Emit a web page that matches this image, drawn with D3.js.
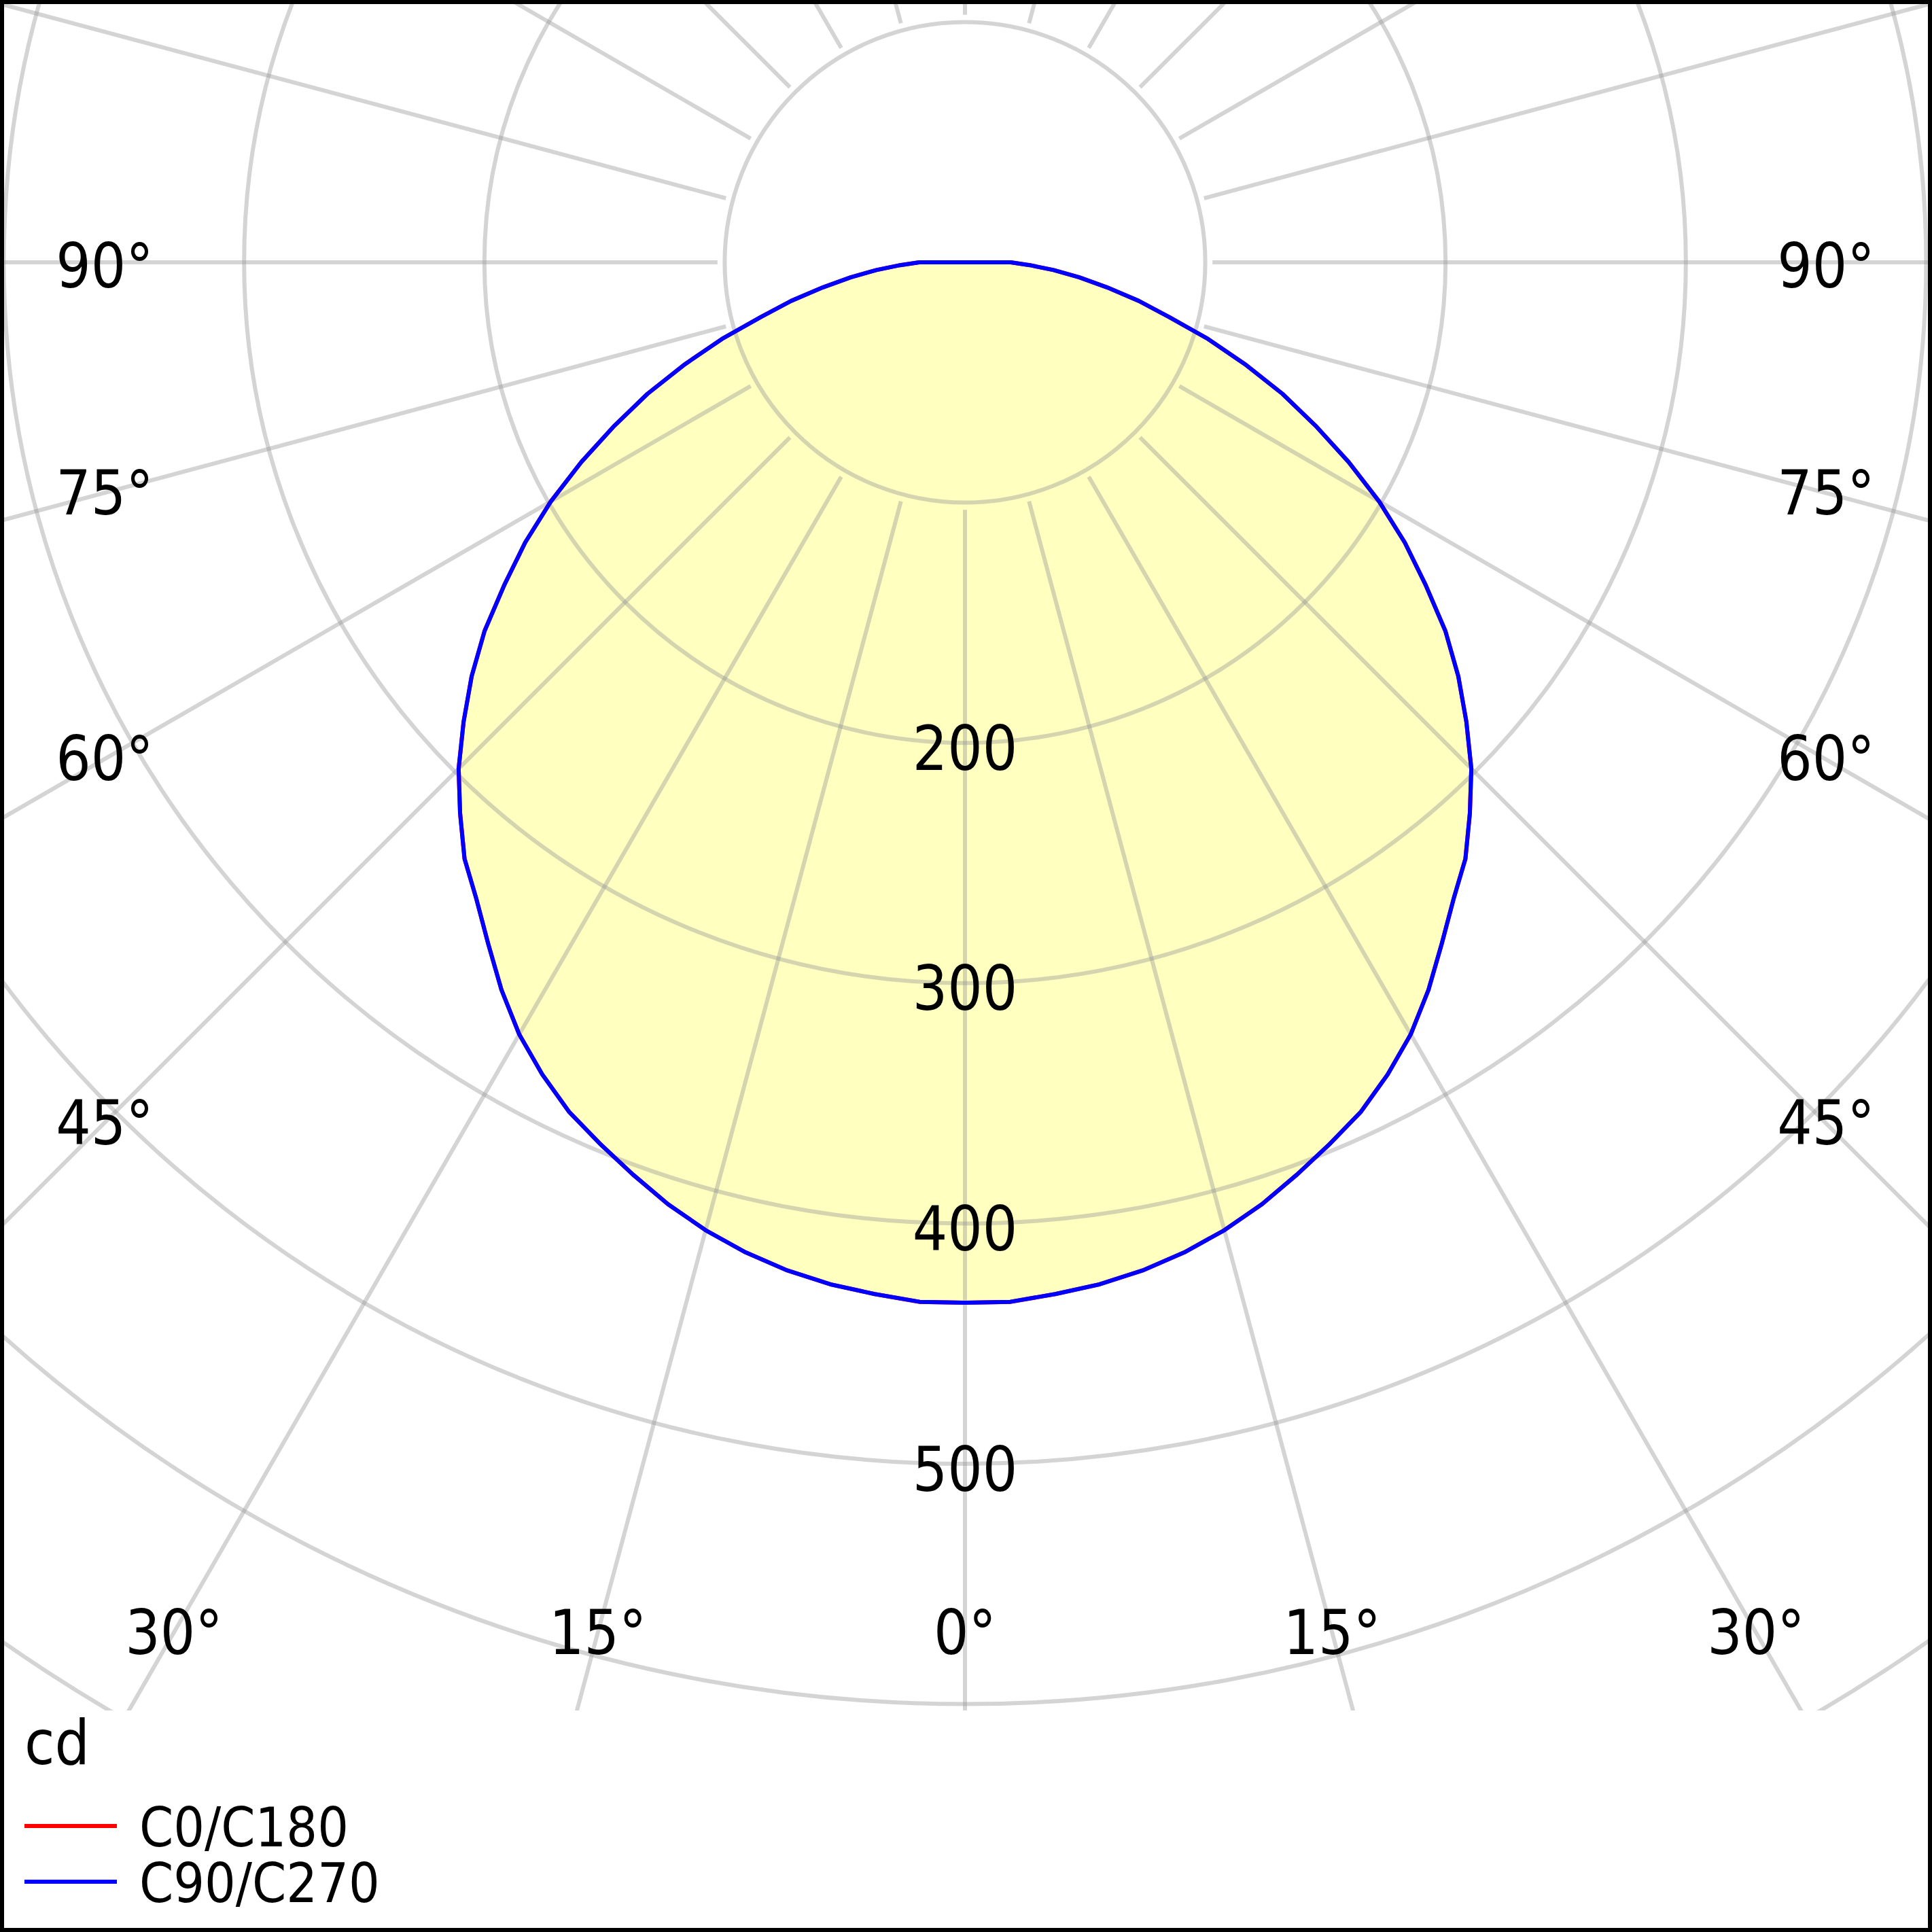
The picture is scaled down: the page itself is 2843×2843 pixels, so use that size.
<!DOCTYPE html>
<html><head><meta charset="utf-8">
<script src="https://cdn.jsdelivr.net/npm/d3@7"></script>
<style>body{margin:0;background:#fff}svg{display:block}</style>
</head><body>
<script>
const gammas = [0,2.5,5,7.5,10,12.5,15,17.5,20,22.5,25,27.5,30,32.5,35,37.5,40,42.5,45,47.5,50,52.5,55,57.5,60,62.5,65,67.5,70,72.5,75,77.5,80,82.5,85,87.5,90];
const c90 = [433,433,431,429,426,422,417,411,404,397,390,381,371,359,346,334,324,311,298,283,268,252,234,217,199,180,161,143,124,106,88,74,60,48,37,27,19];
const c0 = c90.slice();
const rings = [100,200,300,400,500,600,700,800];
const ringLabels = [200,300,400,500];
const sideLabels = [90,75,60,45];
const bottomLabels = [-30,-15,0,15,30];
const legend = [{name:"C0/C180",color:"#ff0000"},{name:"C90/C270",color:"#0000ff"}];

const W=2843, H=2843, cx=1420, cy=386, clipY=2517;
const r = d3.scaleLinear().domain([0,100]).range([0,353.6]);
const font = "'DejaVu Sans Condensed','DejaVu Sans',sans-serif";
const svg = d3.select("body").append("svg").attr("width",W).attr("height",H);
svg.append("defs").append("clipPath").attr("id","cp").append("rect").attr("x",4).attr("y",4).attr("width",W-8).attr("height",clipY-4);

function pt(g,v){const a=g*Math.PI/180;return [cx+r(v)*Math.sin(a), cy+r(v)*Math.cos(a)];}
function curve(vals){
  const pts=[];
  for(let i=gammas.length-1;i>=0;i--) pts.push(pt(-gammas[i],vals[i]));
  for(let i=1;i<gammas.length;i++) pts.push(pt(gammas[i],vals[i]));
  return d3.line()(pts)+"Z";
}
const g = svg.append("g").attr("clip-path","url(#cp)");
g.append("path").attr("d",curve(c90)).attr("fill","#ffffc0").attr("stroke","none");
const grid = g.append("g").attr("stroke","#999").attr("stroke-opacity",0.42).attr("stroke-width",6).attr("fill","none");
rings.forEach(v=>grid.append("circle").attr("cx",cx).attr("cy",cy).attr("r",r(v)));
for(let a=0;a<360;a+=15){
  const p1=pt(a,103), p2=pt(a,1200);
  grid.append("line").attr("x1",p1[0]).attr("y1",p1[1]).attr("x2",p2[0]).attr("y2",p2[1]);
}
g.append("path").attr("d",curve(c0)).attr("fill","none").attr("stroke",legend[0].color).attr("stroke-width",6);
g.append("path").attr("d",curve(c90)).attr("fill","none").attr("stroke",legend[1].color).attr("stroke-width",6).attr("stroke-linejoin","round");

const fs=90;
const txt=(x,y,s,anchor)=>svg.append("text").attr("x",x).attr("y",y).attr("text-anchor",anchor||"middle").attr("dominant-baseline","central").attr("font-family",font).attr("font-size",fs).attr("fill","#000").text(s);
ringLabels.forEach(v=>txt(cx,cy+r(v)+8,v));
const lx=154, rx=2687, by=2402;
sideLabels.forEach(a=>{
  const y=cy+(cx-lx)/Math.tan(a*Math.PI/180);
  const yy = a===90?cy+5:y;
  txt(lx,yy,a+"°"); txt(rx,yy,a+"°");
});
bottomLabels.forEach(a=>{
  const x=cx+(by-cy)*Math.tan(a*Math.PI/180);
  txt(x,by,Math.abs(a)+"°");
});
svg.append("text").attr("x",36).attr("y",2596).attr("font-family",font).attr("font-size",fs).text("cd");
legend.forEach((l,i)=>{
  const y=2687+i*82;
  svg.append("line").attr("x1",36).attr("x2",172).attr("y1",y).attr("y2",y).attr("stroke",l.color).attr("stroke-width",6);
  svg.append("text").attr("x",205).attr("y",y+2).attr("dominant-baseline","central").attr("font-family",font).attr("font-size",80).text(l.name);
});
svg.append("rect").attr("x",3).attr("y",3).attr("width",W-6).attr("height",H-6).attr("fill","none").attr("stroke","#000").attr("stroke-width",6);
</script>
</body></html>
